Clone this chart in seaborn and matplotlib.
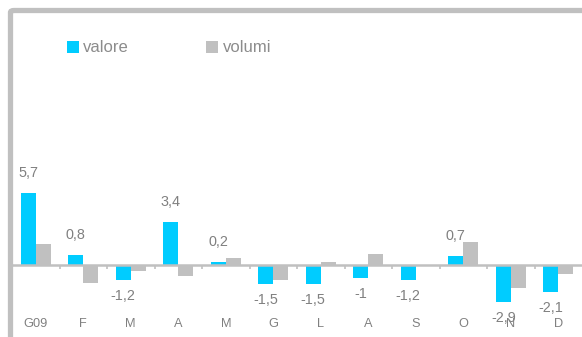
import matplotlib
matplotlib.use("Agg")
import matplotlib.pyplot as plt
from matplotlib.patches import FancyBboxPatch
import seaborn as sns
import pandas as pd

# Monthly changes (%), valore vs volumi
months = ["G09", "F", "M", "A", "M", "G", "L", "A", "S", "O", "N", "D"]
valore = [5.7, 0.8, -1.2, 3.4, 0.2, -1.5, -1.5, -1.0, -1.2, 0.7, -2.9, -2.1]
volumi = [1.65, -1.45, -0.5, -0.85, 0.55, -1.15, 0.25, 0.9, 0.0, 1.85, -1.8, -0.7]
series = ["valore", "volumi"]
colors = ["#00CCFF", "#C0C0C0"]

sns.set_theme(style="white")
plt.rcParams["font.family"] = ["Liberation Sans", "DejaVu Sans"]

W, H = 582, 337
fig = plt.figure(figsize=(W / 100, H / 100), dpi=100)

# plot area in pixel terms
left_px, right_px, top_px = 12, 582, 13
zero_px, ppu = 265, 12.7
ax = fig.add_axes([left_px / W, 0, (right_px - left_px) / W, (H - top_px) / H])

slots = [f"{i}" for i in range(len(months))]
df = pd.DataFrame({
    "slot": slots * 2,
    "value": valore + volumi,
    "serie": [series[0]] * len(months) + [series[1]] * len(months),
})
sns.barplot(data=df, x="slot", y="value", hue="serie", palette=colors,
            width=0.63, dodge=True, ax=ax, linewidth=0, saturation=1,
            legend=True)

ax.set_xlim(-0.5, len(months) - 0.5)
ax.set_ylim(-(H - zero_px) / ppu, (zero_px - top_px) / ppu)

for s in ax.spines.values():
    s.set_visible(False)
ax.axhline(0, color="#C0C0C0", lw=1.8, zorder=3)
ax.set_yticks([])
ax.set_xticks([])
ax.set_xlabel("")
ax.set_ylabel("")
ax.patch.set_alpha(0)

# small ticks on the zero line at category boundaries
for b in range(1, len(months)):
    ax.plot([b - 0.5, b - 0.5], [0, -3.5 / ppu], color="#C0C0C0", lw=1.2,
            zorder=3, solid_capstyle="butt")

txt = "#808080"
# month labels
for i, m in enumerate(months):
    ax.text(i, -(324 - zero_px) / ppu, m, ha="center", va="center",
            fontsize=9.2, color=txt)

# value labels for valore bars
bar_off = -0.63 / 4
for i, v in enumerate(valore):
    lab = f"{v:g}".replace(".", ",")
    if v >= 0:
        y = v + 20 / ppu
    else:
        y = v - 16 / ppu
    ax.text(i + bar_off, y, lab, ha="center", va="center",
            fontsize=10.4, color=txt)

handles, labels = ax.get_legend_handles_labels()
ax.get_legend().remove()
fig.legend(handles, labels, loc="center left",
           bbox_to_anchor=(67 / W, 1 - 48 / H), ncol=2, frameon=False,
           fontsize=12, labelcolor="#8C8C8C", handlelength=0.72,
           handleheight=0.72, handletextpad=0.25, columnspacing=4.65,
           borderpad=0, borderaxespad=0)

# outer rounded frame
frame = FancyBboxPatch((10.5 / W, -0.2), 1.2, 1.2 - 10.5 / H,
                       boxstyle="round,pad=0,rounding_size=0.006",
                       transform=fig.transFigure, fill=False,
                       edgecolor="#C0C0C0", lw=3.8, clip_on=False)
fig.patches.append(frame)

fig.savefig("out.png", dpi=100)
